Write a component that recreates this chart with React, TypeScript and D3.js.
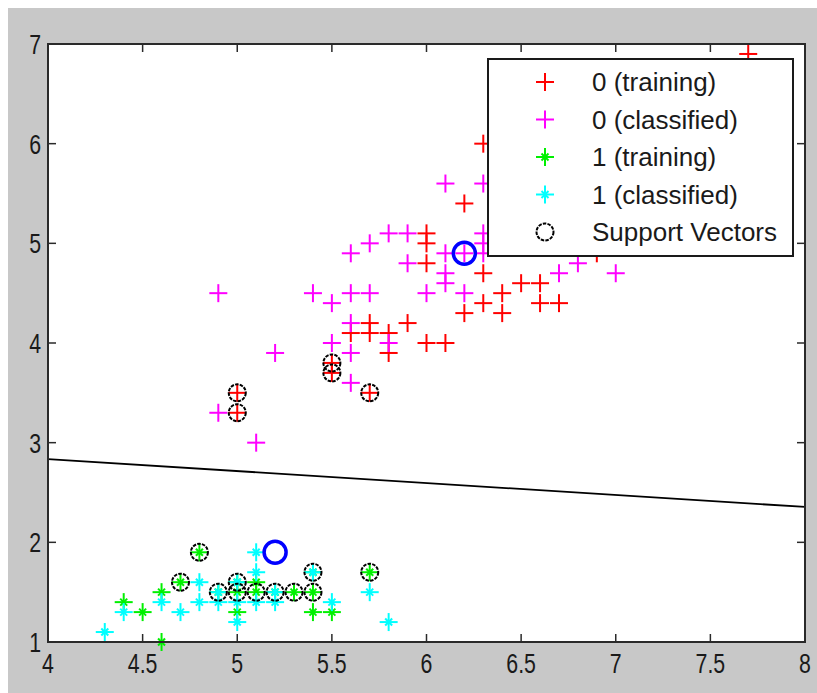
import React from 'react';
import * as d3 from 'd3';

// data (x = sepal length, y = petal length)
const train0 = [[7.7, 6.9], [6.3, 6.0], [6.2, 5.4], [6.0, 5.1], [6.0, 5.0], [6.0, 4.8], [6.9, 4.9], [6.3, 4.7],
  [6.4, 4.5], [6.3, 4.4], [6.2, 4.3], [6.4, 4.3], [6.5, 4.6], [6.6, 4.6], [6.6, 4.4], [6.7, 4.4], [5.7, 4.2],
  [5.6, 4.1], [5.7, 4.1], [5.8, 4.1], [5.8, 3.9], [5.9, 4.2], [6.0, 4.0], [6.1, 4.0], [5.5, 3.8], [5.5, 3.7],
  [5.7, 3.5], [5.0, 3.5], [5.0, 3.3]];
const class0 = [[6.1, 5.6], [6.3, 5.6], [5.8, 5.1], [5.9, 5.1], [5.7, 5.0], [5.6, 4.9], [5.9, 4.8], [6.1, 4.9],
  [6.1, 4.7], [6.1, 4.6], [6.2, 4.9], [6.3, 5.1], [6.3, 5.0], [6.3, 4.9], [6.2, 4.5], [6.0, 4.5], [4.9, 4.5],
  [5.4, 4.5], [5.5, 4.4], [5.6, 4.5], [5.7, 4.5], [5.6, 4.2], [5.6, 3.9], [5.5, 4.0], [5.8, 4.0], [5.2, 3.9],
  [5.6, 3.6], [4.9, 3.3], [5.1, 3.0], [6.8, 4.8], [6.7, 4.7], [7.0, 4.7]];
const train1 = [[4.8, 1.9], [4.7, 1.6], [4.4, 1.4], [4.6, 1.5], [4.5, 1.3], [4.6, 1.0], [4.9, 1.5], [5.0, 1.6],
  [5.0, 1.5], [5.1, 1.5], [5.1, 1.6], [5.2, 1.5], [5.3, 1.5], [5.4, 1.5], [5.4, 1.7], [5.7, 1.7], [5.0, 1.3],
  [5.4, 1.3], [5.5, 1.3]];
const class1 = [[4.3, 1.1], [4.4, 1.3], [4.6, 1.4], [4.7, 1.3], [4.8, 1.6], [4.8, 1.4], [4.9, 1.4], [4.9, 1.5],
  [5.0, 1.6], [5.0, 1.4], [5.0, 1.2], [5.1, 1.4], [5.1, 1.7], [5.1, 1.9], [5.2, 1.4], [5.2, 1.5], [5.4, 1.7],
  [5.5, 1.4], [5.7, 1.5], [5.8, 1.2]];
const supportVectors = [[5.0, 3.5], [5.0, 3.3], [5.5, 3.8], [5.5, 3.7], [5.7, 3.5], [4.8, 1.9], [4.7, 1.6],
  [4.9, 1.5], [5.0, 1.6], [5.0, 1.5], [5.1, 1.5], [5.2, 1.5], [5.3, 1.5], [5.4, 1.5], [5.4, 1.7], [5.7, 1.7]];
const queried = [[6.2, 4.9], [5.2, 1.9]];
const boundary = [[4, 2.835], [8, 2.355]];

const xTicks = [4, 4.5, 5, 5.5, 6, 6.5, 7, 7.5, 8];
const yTicks = [1, 2, 3, 4, 5, 6, 7];
const legendLabels = ['0 (training)', '0 (classified)', '1 (training)', '1 (classified)', 'Support Vectors'];

const left = 48, right = 805, top = 44, bottom = 642;

function Plus({ x, y, color }: { x: number; y: number; color: string }) {
  const s = 9;
  return (
    <g stroke={color} strokeWidth={2}>
      <line x1={x - s} x2={x + s} y1={y} y2={y} />
      <line x1={x} x2={x} y1={y - s} y2={y + s} />
    </g>
  );
}

function Star({ x, y, color }: { x: number; y: number; color: string }) {
  const s = 9, d = 3.5;
  return (
    <g stroke={color} strokeWidth={2}>
      <line x1={x - s} x2={x + s} y1={y} y2={y} />
      <line x1={x} x2={x} y1={y - s} y2={y + s} />
      <line x1={x - d} x2={x + d} y1={y - d} y2={y + d} />
      <line x1={x - d} x2={x + d} y1={y + d} y2={y - d} />
    </g>
  );
}

export default function App() {
  const x = d3.scaleLinear().domain([4, 8]).range([left, right]);
  const y = d3.scaleLinear().domain([1, 7]).range([bottom, top]);
  const line = d3.line<number[]>().x((d) => x(d[0])).y((d) => y(d[1]));
  const font = '"Liberation Sans", Arial, sans-serif';
  const txt = '#1a1a1a';

  const legendX = 488, legendY = 59, legendW = 305, legendH = 197;
  const rowY = (i: number) => legendY + 23 + i * 37.5;
  const mx = 545;

  return (
    <svg width={817} height={693} style={{ position: 'absolute', left: 0, top: 0 }}>
      <rect x={8} y={8} width={809} height={685} fill="#c8c8c8" />
      <rect x={left} y={top} width={right - left} height={bottom - top} fill="#fff" />

      <defs>
        <clipPath id="plot">
          <rect x={left} y={top} width={right - left} height={bottom - top} />
        </clipPath>
      </defs>

      <g clipPath="url(#plot)">
        <path d={line(boundary) || ''} stroke="#000" strokeWidth={1.8} fill="none" />
      </g>

      {train0.map((d, i) => <Plus key={'r' + i} x={x(d[0])} y={y(d[1])} color="#ff0000" />)}
      {class0.map((d, i) => <Plus key={'m' + i} x={x(d[0])} y={y(d[1])} color="#ff00ff" />)}
      {train1.map((d, i) => <Star key={'g' + i} x={x(d[0])} y={y(d[1])} color="#00f000" />)}
      {class1.map((d, i) => <Star key={'c' + i} x={x(d[0])} y={y(d[1])} color="#00ffff" />)}
      {supportVectors.map((d, i) => (
        <circle key={'s' + i} cx={x(d[0])} cy={y(d[1])} r={8.5} fill="none" stroke="#000"
          strokeWidth={2} strokeDasharray="3.5 1.2" />
      ))}
      {queried.map((d, i) => (
        <circle key={'q' + i} cx={x(d[0])} cy={y(d[1])} r={11} fill="none" stroke="#0000ff" strokeWidth={3.5} />
      ))}

      {/* axes box and ticks */}
      <rect x={left} y={top} width={right - left} height={bottom - top} fill="none" stroke="#2a2a2a" strokeWidth={2} />
      {xTicks.map((t) => (
        <g key={'xt' + t} stroke="#2a2a2a" strokeWidth={1.5}>
          <line x1={x(t)} x2={x(t)} y1={bottom} y2={bottom - 8} />
          <line x1={x(t)} x2={x(t)} y1={top} y2={top + 8} />
        </g>
      ))}
      {yTicks.map((t) => (
        <g key={'yt' + t} stroke="#2a2a2a" strokeWidth={1.5}>
          <line x1={left} x2={left + 8} y1={y(t)} y2={y(t)} />
          <line x1={right} x2={right - 8} y1={y(t)} y2={y(t)} />
        </g>
      ))}
      {xTicks.map((t) => (
        <text key={'xl' + t} transform={`translate(${x(t)},${bottom + 31}) scale(0.82,1.08)`} textAnchor="middle"
          fontFamily={font} fontSize={26} fill={txt}>{t}</text>
      ))}
      {yTicks.map((t) => (
        <text key={'yl' + t} transform={`translate(41,${y(t) + 10}) scale(0.82,1.08)`} textAnchor="end"
          fontFamily={font} fontSize={26} fill={txt}>{t}</text>
      ))}

      {/* legend */}
      <rect x={legendX} y={legendY} width={legendW} height={legendH} fill="#fff" stroke="#1a1a1a" strokeWidth={2} />
      <Plus x={mx} y={rowY(0)} color="#ff0000" />
      <Plus x={mx} y={rowY(1)} color="#ff00ff" />
      <Star x={mx} y={rowY(2)} color="#00f000" />
      <Star x={mx} y={rowY(3)} color="#00ffff" />
      <circle cx={mx} cy={rowY(4)} r={8.5} fill="none" stroke="#000" strokeWidth={2} strokeDasharray="3.5 1.2" />
      {legendLabels.map((l, i) => (
        <text key={l} x={592} y={rowY(i) + 9} fontFamily={font} fontSize={26} fill={txt}>{l}</text>
      ))}
    </svg>
  );
}
